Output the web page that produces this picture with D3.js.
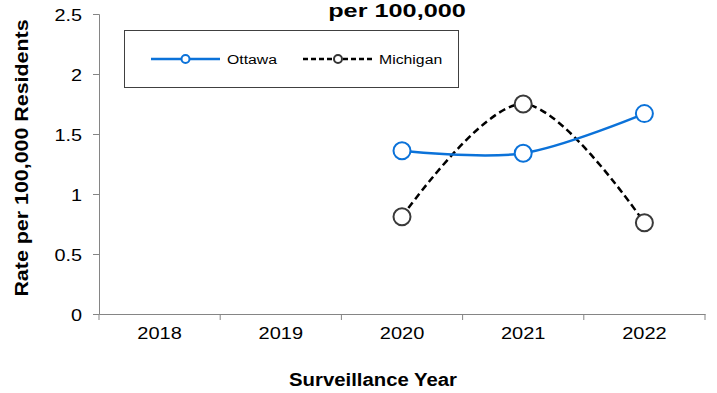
<!DOCTYPE html>
<html><head><meta charset="utf-8">
<script src="https://cdn.jsdelivr.net/npm/d3@7"></script>
<style>
html,body{margin:0;padding:0;background:#fff;}
svg{display:block;font-family:"Liberation Sans",Arial,sans-serif;}
</style></head>
<body>
<svg id="chart" width="717" height="393"></svg>
<script>
const years = ["2018","2019","2020","2021","2022"];
const ottawa = [null, null, 1.36, 1.34, 1.67];
const michigan = [null, null, 0.81, 1.75, 0.76];
const yTicks = [0, 0.5, 1, 1.5, 2, 2.5];
const seriesNames = ["Ottawa", "Michigan"];
const titleText = "per 100,000";
const xTitle = "Surveillance Year";
const yTitle = "Rate per 100,000 Residents";

const svg = d3.select("#chart");
const m = {l: 99, r: 12, t: 14, b: 79};
const W = 717, H = 393;
const x = d3.scaleBand().domain(years).range([m.l, W - m.r]);
const y = d3.scaleLinear().domain([0, 2.5]).range([H - m.b, m.t]);
const axisColor = "#858585";

// Y axis
const yAxis = svg.append("g").attr("transform", `translate(${m.l},0)`)
  .call(d3.axisLeft(y).tickValues(yTicks).tickSize(6).tickPadding(0).tickFormat(d3.format("")));
yAxis.select(".domain").attr("stroke", axisColor);
yAxis.selectAll(".tick line").attr("stroke", axisColor);
yAxis.selectAll(".tick text").remove();
yAxis.selectAll(".tick").append("text")
  .attr("transform", "translate(-17,6) scale(1.24,1)")
  .attr("text-anchor", "end").attr("fill", "#000")
  .attr("font-size", 16).text(d => d3.format("")(d));

// X axis
const xAxis = svg.append("g").attr("transform", `translate(0,${H - m.b})`)
  .call(d3.axisBottom(x).tickSize(0).tickSizeOuter(0));
xAxis.select(".domain").attr("stroke", axisColor);
xAxis.selectAll(".tick text").remove();
xAxis.selectAll(".tick").append("text")
  .attr("transform", "translate(0,25) scale(1.25,1)")
  .attr("text-anchor", "middle").attr("fill", "#000")
  .attr("font-size", 16).text(d => d);
// boundary ticks
const bounds = years.map(d => x(d)).concat([x(years[years.length-1]) + x.bandwidth()]);
xAxis.selectAll(".btick").data(bounds).enter().append("line")
  .attr("x1", d => d).attr("x2", d => d).attr("y1", 0).attr("y2", 6)
  .attr("stroke", axisColor);

// Lines
const cx = (d, i) => x(years[i]) + x.bandwidth() / 2;
const line = d3.line().defined(d => d != null).x(cx).y(d => y(d)).curve(d3.curveCardinal.tension(0));

svg.append("path").datum(michigan).attr("d", line)
  .attr("fill", "none").attr("stroke", "#000").attr("stroke-width", 2.5)
  .attr("stroke-dasharray", "7,4");
svg.append("path").datum(ottawa).attr("d", line)
  .attr("fill", "none").attr("stroke", "#0b72d9").attr("stroke-width", 2.5);

function markers(data, stroke) {
  svg.append("g").selectAll("circle")
    .data(data.map((v, i) => ({v, i})).filter(d => d.v != null))
    .enter().append("circle")
    .attr("cx", d => cx(d.v, d.i)).attr("cy", d => y(d.v)).attr("r", 8.5)
    .attr("fill", "#fff").attr("stroke", stroke).attr("stroke-width", 2);
}
markers(michigan, "#3a3a3a");
markers(ottawa, "#0b72d9");

// Legend
const lg = svg.append("g");
lg.append("rect").attr("x", 124.5).attr("y", 30.5).attr("width", 334).attr("height", 57)
  .attr("fill", "#fff").attr("stroke", "#404040").attr("stroke-width", 1);
const legendItems = [
  {name: seriesNames[0], color: "#0b72d9", mstroke: "#0b72d9", dash: null, x0: 151, x1: 220, tx: 227},
  {name: seriesNames[1], color: "#000", mstroke: "#333", dash: "5,3", x0: 303, x1: 373, tx: 379}
];
legendItems.forEach(it => {
  lg.append("line").attr("x1", it.x0).attr("x2", it.x1).attr("y1", 59).attr("y2", 59)
    .attr("stroke", it.color).attr("stroke-width", 2.5).attr("stroke-dasharray", it.dash);
  lg.append("circle").attr("cx", (it.x0 + it.x1) / 2).attr("cy", 59).attr("r", 4)
    .attr("fill", "#fff").attr("stroke", it.mstroke).attr("stroke-width", 2);
  lg.append("text").attr("transform", `translate(${it.tx},64) scale(1.17,1)`)
    .attr("font-size", 13.5).attr("fill", "#000").text(it.name);
});

// Titles
svg.append("text").attr("transform", "translate(397,17) scale(1.33,1)")
  .attr("text-anchor", "middle").attr("font-weight", "bold").attr("font-size", 19)
  .attr("fill", "#000").text(titleText);
svg.append("text").attr("transform", "translate(373,386) scale(1.13,1)")
  .attr("text-anchor", "middle").attr("font-weight", "bold").attr("font-size", 18)
  .attr("fill", "#000").text(xTitle);
svg.append("text").attr("transform", "translate(28,158) rotate(-90) scale(1.19,1)")
  .attr("text-anchor", "middle").attr("font-weight", "bold").attr("font-size", 18)
  .attr("fill", "#000").text(yTitle);
</script>
</body></html>
